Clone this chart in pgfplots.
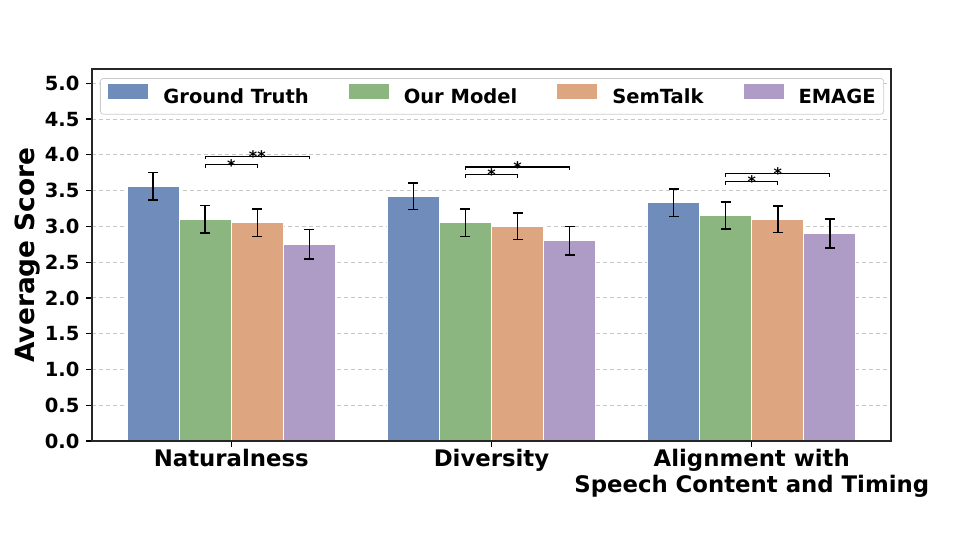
\documentclass[border=0pt]{standalone}
\usepackage{pgfplots}
\pgfplotsset{compat=1.18}
\usepackage{fontspec}
\setmainfont{DejaVu Sans}

\definecolor{gtc}{RGB}{112,140,186}
\definecolor{omc}{RGB}{139,182,128}
\definecolor{stc}{RGB}{221,165,128}
\definecolor{emc}{RGB}{174,155,198}

\pgfplotsset{
  scorebar/.style={
    ybar, bar width=0.2, bar shift=0pt,
    fill=#1, draw=white, line width=0.5pt,
    legend image code/.code={\fill[#1, sharp corners] (0pt,0.15pt) rectangle (19.5pt,6.95pt);},
    error bars/.cd, y dir=both, y explicit,
      error bar style={black, line width=0.75pt},
      error mark options={black, line width=0.75pt, mark size=2.5pt, rotate=90},
  },
  sigline/.style={black, line width=0.6pt, no marks, sharp plot, forget plot},
}

\begin{document}
\bfseries
\begin{tikzpicture}
\path[use as bounding box] (0,0) rectangle (480pt,270pt);
\begin{axis}[
  at={(46pt,49.5pt)}, anchor=south west,
  scale only axis, width=399.5pt, height=186pt,
  xmin=-0.535, xmax=2.535, ymin=0, ymax=5.2,
  xtick={0,1,2},
  xticklabels={Naturalness, Diversity, {Alignment with\\Speech Content and Timing}},
  ytick={0,0.5,...,5.0},
  /pgf/number format/.cd, fixed, fixed zerofill, precision=1, assume math mode=true,
  /pgfplots/.cd,
  tick align=outside, xtick pos=bottom, ytick pos=left,
  major tick length=2.8pt,
  tick style={black, line width=0.6pt},
  axis line style={black!85, line width=0.7pt},
  ymajorgrids,
  grid style={black!22, line width=0.5pt, dash pattern=on 2.2pt off 1.3pt},
  yticklabel style={font=\fontsize{9.75}{11}\selectfont\bfseries},
  xticklabel style={font=\fontsize{11.4}{13}\selectfont\bfseries, align=center, yshift=2pt},
  every axis y label/.style={at={([xshift=-32pt]axis description cs:0,0.5)}, rotate=90, anchor=center},
  ylabel={Average Score},
  ylabel style={font=\fontsize{13.2}{15}\selectfont\bfseries},
  legend columns=4,
  legend style={
    at={(0,1)}, anchor=north west, xshift=4pt, yshift=-4.5pt,
    draw=black!20, rounded corners=1.5pt, fill=white,
    inner xsep=4pt, inner ysep=3pt,
    font=\fontsize{9.75}{11}\selectfont\bfseries,
    nodes={inner sep=0pt, text height=7.2pt, text depth=2.2pt},
    /tikz/every odd column/.append style={column sep=7.5pt},
    /tikz/every even column/.append style={column sep=20pt},
  },
]

% Mean scores with standard-error bars, one series per method
\addplot[scorebar=gtc] coordinates {(-0.3,3.56) +- (0,0.19) (0.7,3.42) +- (0,0.185) (1.7,3.33) +- (0,0.19)};
\addlegendentry{Ground Truth}
\addplot[scorebar=omc] coordinates {(-0.1,3.10) +- (0,0.19) (0.9,3.05) +- (0,0.19) (1.9,3.15) +- (0,0.19)};
\addlegendentry{Our Model}
\addplot[scorebar=stc] coordinates {(0.1,3.05) +- (0,0.19) (1.1,3.00) +- (0,0.185) (2.1,3.10) +- (0,0.185)};
\addlegendentry{SemTalk}
\addplot[scorebar=emc] coordinates {(0.3,2.75) +- (0,0.205) (1.3,2.80) +- (0,0.20) (2.3,2.90) +- (0,0.205)};
\addlegendentry{EMAGE}

% Significance brackets: Our Model vs SemTalk (lower) and vs EMAGE (upper)
\addplot[sigline] coordinates {(-0.1,3.815) (-0.1,3.86) (0.1,3.86) (0.1,3.815)};
\addplot[sigline] coordinates {(-0.1,3.935) (-0.1,3.98) (0.3,3.98) (0.3,3.935)};
\addplot[sigline] coordinates {(0.9,3.68) (0.9,3.725) (1.1,3.725) (1.1,3.68)};
\addplot[sigline] coordinates {(0.9,3.785) (0.9,3.83) (1.3,3.83) (1.3,3.785)};
\addplot[sigline] coordinates {(1.9,3.585) (1.9,3.63) (2.1,3.63) (2.1,3.585)};
\addplot[sigline] coordinates {(1.9,3.695) (1.9,3.74) (2.3,3.74) (2.3,3.695)};

\begin{scope}[every node/.style={anchor=base, inner sep=0pt, font=\fontsize{8}{9}\selectfont\bfseries}]
\node at (axis cs:0.0,3.77) {*};
\node at (axis cs:0.1,3.89) {**};
\node at (axis cs:1.0,3.635) {*};
\node at (axis cs:1.1,3.74) {*};
\node at (axis cs:2.0,3.54) {*};
\node at (axis cs:2.1,3.65) {*};
\end{scope}

\draw[black!85, line width=0.7pt] (rel axis cs:0,0) rectangle (rel axis cs:1,1);
\end{axis}
\end{tikzpicture}
\end{document}
